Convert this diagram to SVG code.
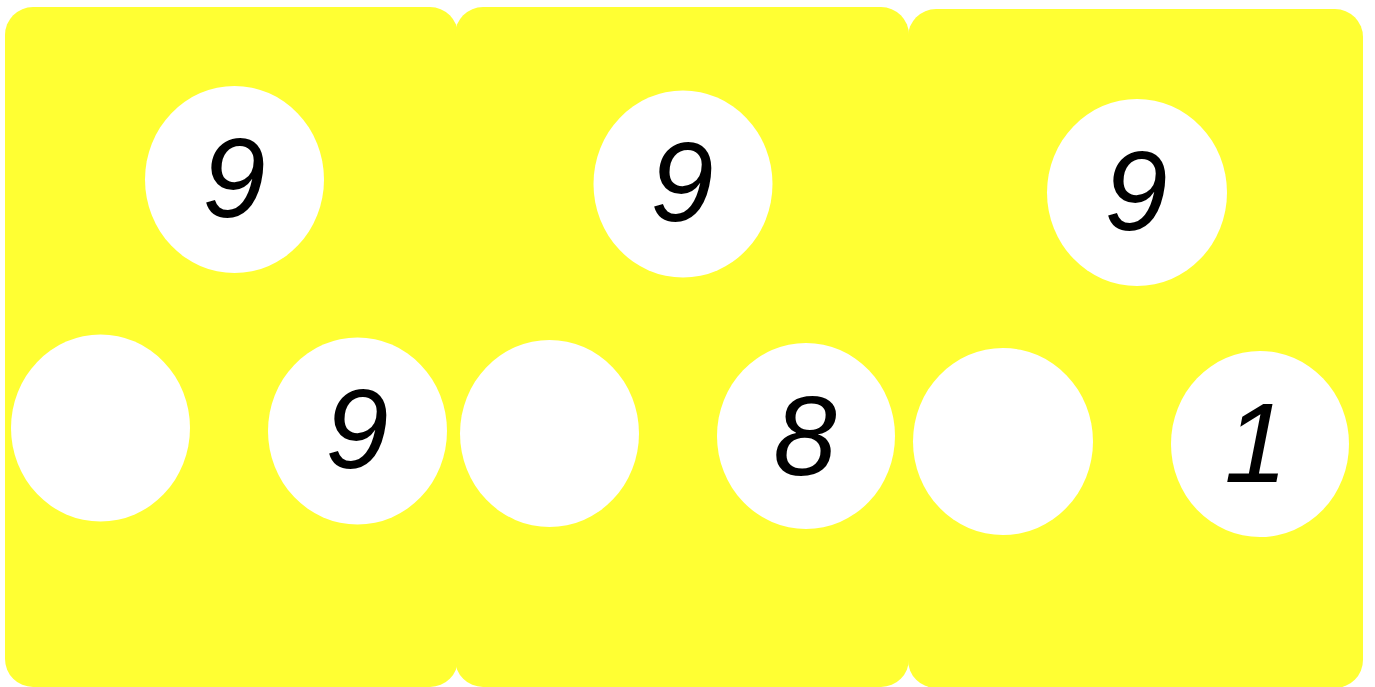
<svg xmlns="http://www.w3.org/2000/svg" width="1375" height="687" viewBox="0 0 1375 687">
<style>
.panel{fill:#FFFF33;}
.ball{fill:#FFFFFF;}
.num{font-family:"Liberation Sans","DejaVu Sans",sans-serif;font-style:italic;font-size:114px;fill:#000;text-anchor:middle;}
</style>
<rect width="1375" height="687" fill="#FFFFFF"/>
<g id="panel1">
<rect class="panel" x="5" y="7" width="453" height="680" rx="28"/>
<g id="p1-top"><ellipse class="ball" cx="234.5" cy="179.5" rx="89.5" ry="93.5"/><text class="num" x="234" y="217">9</text></g>
<g id="p1-left"><ellipse class="ball" cx="100.5" cy="428" rx="89.5" ry="93.5"/></g>
<g id="p1-right"><ellipse class="ball" cx="357.5" cy="431" rx="89.5" ry="93.5"/><text class="num" x="357" y="468">9</text></g>
</g>
<g id="panel2">
<rect class="panel" x="455" y="7" width="454" height="680" rx="28"/>
<g id="p2-top"><ellipse class="ball" cx="683" cy="184" rx="89.5" ry="93.5"/><text class="num" x="682" y="221">9</text></g>
<g id="p2-left"><ellipse class="ball" cx="549.5" cy="433.5" rx="89.5" ry="93.5"/></g>
<g id="p2-right"><ellipse class="ball" cx="806" cy="436" rx="89" ry="93"/><text class="num" x="805" y="475">8</text></g>
</g>
<g id="panel3">
<rect class="panel" x="908" y="9" width="455" height="679" rx="28"/>
<g id="p3-top"><ellipse class="ball" cx="1137" cy="192.5" rx="90" ry="93.5"/><text class="num" x="1136" y="230">9</text></g>
<g id="p3-left"><ellipse class="ball" cx="1003" cy="441.5" rx="90" ry="93.5"/></g>
<g id="p3-right"><ellipse class="ball" cx="1260" cy="444" rx="89" ry="93"/><text class="num" x="1256" y="482">1</text></g>
</g>
<g id="connectors"/>
</svg>
